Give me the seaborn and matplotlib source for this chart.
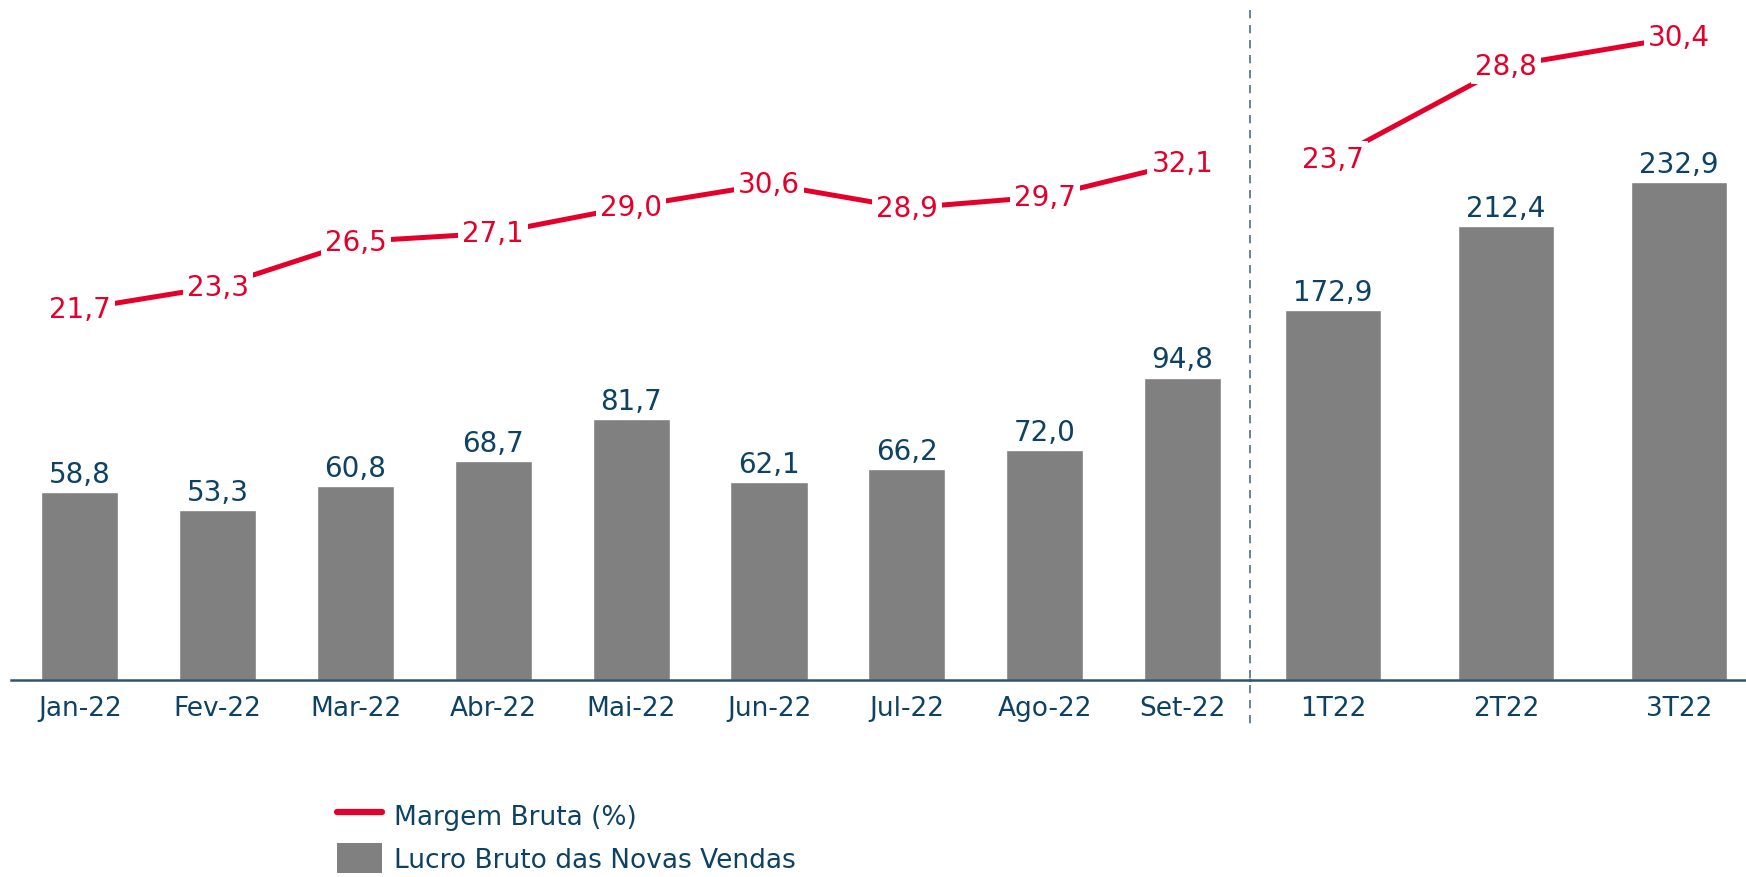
import matplotlib
matplotlib.use('Agg')
import matplotlib.pyplot as plt
import seaborn as sns
import pandas as pd
from matplotlib.lines import Line2D
from matplotlib.patches import Patch

# monthly data
meses = ['Jan-22', 'Fev-22', 'Mar-22', 'Abr-22', 'Mai-22', 'Jun-22', 'Jul-22', 'Ago-22', 'Set-22']
lucro_mes = [58.8, 53.3, 60.8, 68.7, 81.7, 62.1, 66.2, 72.0, 94.8]
margem_mes = [21.7, 23.3, 26.5, 27.1, 29.0, 30.6, 28.9, 29.7, 32.1]

# quarterly data
trimestres = ['1T22', '2T22', '3T22']
lucro_tri = [172.9, 212.4, 232.9]
margem_tri = [23.7, 28.8, 30.4]

NAVY = '#0d4264'
RED = '#e4002b'
GRAY = '#808080'

sns.set_style('white')
plt.rcParams['font.family'] = ['DejaVu Sans']

fig = plt.figure(figsize=(17.46, 8.78), dpi=100)
ax1 = fig.add_axes([11/1746, 1-681/878, (1250-11)/1746, 681/878])
ax2 = fig.add_axes([1250/1746, 1-681/878, (1746-1250)/1746, 681/878])


def fmt(v):
    return f'{v:.1f}'.replace('.', ',')


def draw_panel(ax, cats, lucro, margem, bar_top, line_lim, xlim):
    df = pd.DataFrame({'cat': cats, 'lucro': lucro, 'margem': margem, 'pos': range(len(cats))})
    sns.barplot(data=df, x='cat', y='lucro', color=GRAY, width=0.56, ax=ax, saturation=1)
    ax.set_ylim(0, bar_top)
    ax.set_xlim(*xlim)
    for i, v in enumerate(lucro):
        ax.annotate(fmt(v), (i, v), xytext=(0, 3), textcoords='offset points',
                    ha='center', va='bottom', fontsize=20, color=NAVY)
    ax.set_xlabel('')
    ax.set_ylabel('')
    ax.set_yticks([])
    ax.tick_params(axis='x', length=0, pad=11, labelsize=19, labelcolor=NAVY)
    for s in ['top', 'left', 'right']:
        ax.spines[s].set_visible(False)
    ax.spines['bottom'].set_color('#2a5676')
    ax.spines['bottom'].set_linewidth(1.8)

    axl = ax.twinx()
    sns.lineplot(data=df, x='pos', y='margem', color=RED, linewidth=3.6, ax=axl)
    axl.set_ylim(*line_lim)
    axl.set_xlim(*xlim)
    axl.set_yticks([])
    axl.set_ylabel('')
    axl.axis('off')
    for i, v in enumerate(margem):
        axl.text(i, v, fmt(v), ha='center', va='center', fontsize=20, color=RED,
                 bbox=dict(facecolor='white', edgecolor='none', pad=3))
    ax.patch.set_visible(False)


draw_panel(ax1, meses, lucro_mes, margem_mes, 213.5, (-4.72, 43.78), (-0.5, 8.49))
draw_panel(ax2, trimestres, lucro_tri, margem_tri, 318.5, (-4.93, 32.49), (-0.48, 2.387))

# dashed separator between monthly and quarterly
fig.add_artist(Line2D([1250/1746, 1250/1746], [1-11/878, 1-730/878], transform=fig.transFigure,
                      color='#4f6f8a', linewidth=1.2, linestyle=(0, (5, 4))))

handles = [Line2D([0], [0], color=RED, linewidth=4.5, solid_capstyle='round'),
           Patch(facecolor=GRAY, edgecolor='none')]
leg = fig.legend(handles, ['Margem Bruta (%)', 'Lucro Bruto das Novas Vendas'],
                 loc='upper left', bbox_to_anchor=(324/1746, 1-788/878), frameon=False,
                 fontsize=19, handlelength=1.7, handleheight=1.4, labelspacing=0.45,
                 handletextpad=0.45, borderpad=0)
for t in leg.get_texts():
    t.set_color(NAVY)

fig.savefig('out.png', dpi=100)
